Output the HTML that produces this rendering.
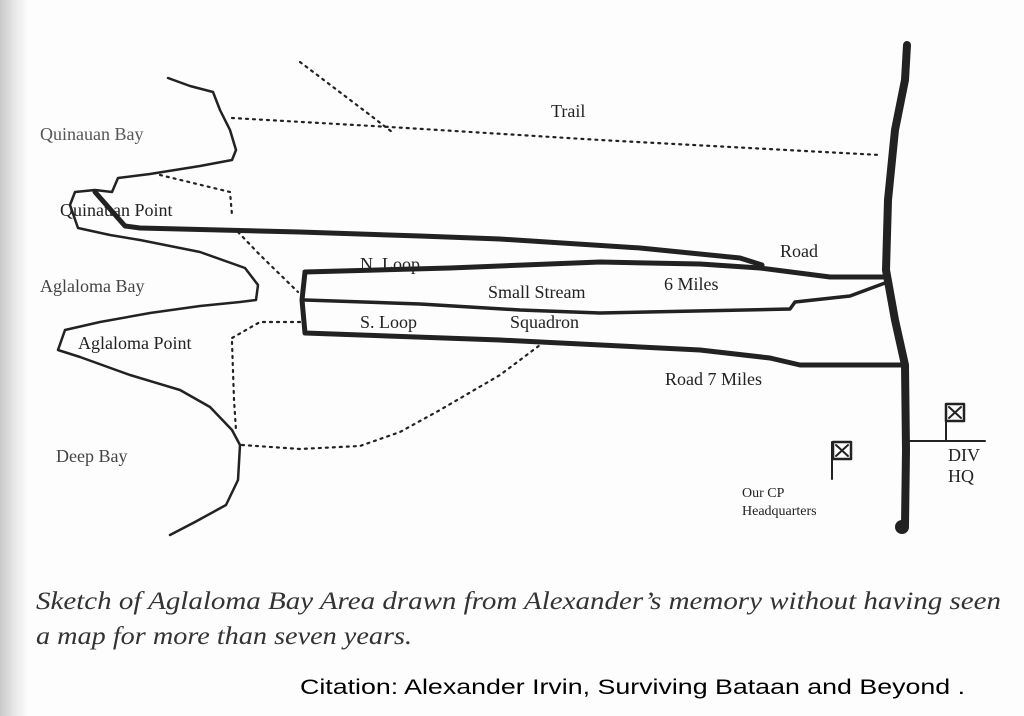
<!DOCTYPE html>
<html><head><meta charset="utf-8"><style>
html,body{margin:0;padding:0;background:#fff}
svg{display:block}
</style></head><body>
<svg width="1024" height="716" viewBox="0 0 1024 716" xmlns="http://www.w3.org/2000/svg">
<defs>
<linearGradient id="lg" x1="0" x2="1" y1="0" y2="0">
<stop offset="0" stop-color="#c8c8c8"/><stop offset="0.5" stop-color="#e6e6e6"/><stop offset="1" stop-color="#fdfdfd"/>
</linearGradient>
</defs>
<rect width="1024" height="716" fill="#fdfdfd"/>
<rect width="28" height="716" fill="url(#lg)"/>
<g fill="none" stroke="#222" stroke-linejoin="round" stroke-linecap="round">
<path stroke-width="2.5" d="M168,78 L190,86 L213,92 L220,110 L230,130 L236,150 L232,160 L200,166 L150,174 L118,178 L112,192 L95,190 L75,192 L70,205 L78,228 L110,235 L140,240 L200,252 L245,268 L258,285 L256,300 L240,302 L200,306 L150,313 L100,322 L65,330 L58,350 L80,357 L130,375 L180,390 L210,407 L232,430 L240,445 L238,480 L226,505 L195,522 L170,535"/>
<g stroke-width="2.2" stroke-dasharray="2,5">
<path d="M300,62 L370,115 L392,132"/>
<path d="M232,118 L390,127 L600,140 L880,155"/>
<path d="M160,175 L230,192 L232,215"/>
<path d="M238,232 L260,255 L298,292"/>
<path d="M300,322 L260,322 L232,338"/>
<path d="M232,342 L234,400 L236,430"/>
<path d="M242,445 L300,449 L360,446 L400,432 L440,410 L500,375 L540,345"/>
</g>
<path stroke-width="5" d="M95,192 L125,226 L140,228 L300,232 L420,236 L500,239 L640,248 L740,258 L762,265"/>
<path stroke-width="5" d="M305,272 L450,268 L600,262 L700,264 L760,268 L830,277 L885,277"/>
<path stroke-width="3.5" d="M305,300 L420,304 L520,310 L600,313 L790,309 L795,302 L850,296 L885,283"/>
<path stroke-width="5" d="M305,272 L302,300 L305,333 L500,340 L700,350 L770,358 L800,365 L905,365"/>
<path stroke-width="8" d="M907,45 L905,80 L895,130 L888,200 L886,270 L895,320 L905,365 L906,450 L905,525"/>
<circle cx="902" cy="527" r="7" fill="#222" stroke="none"/>
<path stroke-width="2" d="M910,441 L985,441 M946,441 L946,405 M832,479 L832,442"/>
<rect x="946" y="404" width="18" height="17" stroke-width="2.5"/>
<path stroke-width="2" d="M949,407 L961,418 M961,407 L949,418"/>
<rect x="833" y="442" width="18" height="17" stroke-width="2.5"/>
<path stroke-width="2" d="M836,445 L848,456 M848,445 L836,456"/>
</g>
<g font-family="'Liberation Serif',serif" font-size="18" fill="#222">
<text x="40" y="140" fill="#555">Quinauan Bay</text>
<text x="60" y="216">Quinauan Point</text>
<text x="40" y="292" fill="#444">Aglaloma Bay</text>
<text x="78" y="349">Aglaloma Point</text>
<text x="56" y="462" fill="#444">Deep Bay</text>
<text x="551" y="117">Trail</text>
<text x="780" y="257">Road</text>
<text x="360" y="270">N. Loop</text>
<text x="488" y="298">Small Stream</text>
<text x="664" y="290">6 Miles</text>
<text x="360" y="328">S. Loop</text>
<text x="510" y="328">Squadron</text>
<text x="665" y="385">Road 7 Miles</text>
<text x="948" y="461">DIV</text>
<text x="948" y="482">HQ</text>
<text x="742" y="497" font-size="14">Our CP</text>
<text x="742" y="515" font-size="14">Headquarters</text>
</g>
<g font-family="'Liberation Serif',serif" font-style="italic" font-size="25" fill="#333">
<text x="36" y="609" textLength="965" lengthAdjust="spacingAndGlyphs">Sketch of Aglaloma Bay Area drawn from Alexander’s memory without having seen</text>
<text x="36" y="644" textLength="376" lengthAdjust="spacingAndGlyphs">a map for more than seven years.</text>
</g>
<text x="300" y="694" font-family="'Liberation Sans',sans-serif" font-size="21" fill="#000" textLength="665" lengthAdjust="spacingAndGlyphs">Citation:  Alexander Irvin,  Surviving Bataan and Beyond .</text>
</svg>
</body></html>
